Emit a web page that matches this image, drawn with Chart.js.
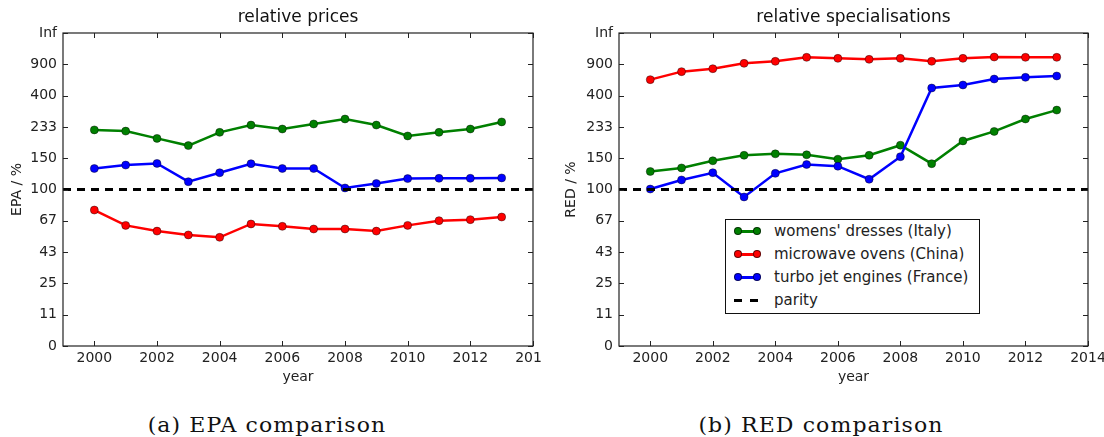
<!DOCTYPE html>
<html>
<head>
<meta charset="utf-8">
<script src="https://cdn.jsdelivr.net/npm/chart.js@4.4.0/dist/chart.umd.min.js"></script>
<style>
  body { margin: 0; background: #fff; width: 1104px; height: 437px; overflow: hidden; position: relative;
         font-family: "DejaVu Sans", sans-serif; }
  .panel { position: absolute; top: 0; height: 400px; overflow: hidden; }
  #pa { left: 0; width: 542px; }
  #pb { left: 552px; width: 552px; }
  .panel canvas { position: absolute; left: 0; top: 0; }
  .cap { position: absolute; top: 413px; font-family: "DejaVu Serif", serif; font-size: 20px; line-height: 24px;
         letter-spacing: 1px; transform: translateX(-50%) scaleX(1.1); white-space: nowrap; color: #111; }
  #legend { position: absolute; left: 725px; top: 219px; width: 255px; height: 95px; box-sizing: border-box;
            border: 1px solid #111; background: #fff; }
  .row { height: 22.9px; font-size: 15px; color: #222; position: relative; }
  .sw { position: absolute; left: 8px; width: 27px; height: 10px; top: 50%; margin-top: -5px; }
  .sw .ln { position: absolute; left: 3px; right: 3px; top: 3.8px; height: 2.5px; }
  .sw .dot { position: absolute; top: 1px; width: 8px; height: 8px; border-radius: 50%; box-sizing: border-box;
             border: 0.7px solid rgba(0,0,0,0.6); }
  .sw .d { position: absolute; top: 3.5px; height: 3px; width: 8px; background: #000; }
  .row span.t { position: absolute; left: 48px; top: 50%; transform: translateY(-50%); white-space: nowrap; }
</style>
</head>
<body>
<div class="panel" id="pa"><canvas id="epa" width="560" height="400"></canvas></div>
<div class="panel" id="pb"><canvas id="red" width="552" height="400"></canvas></div>
<div class="cap" style="left:267px">(a) EPA comparison</div>
<div class="cap" style="left:821px">(b) RED comparison</div>
<div id="legend"></div>
<script>
// two panels on a compressed axis: v / (100 + v), so 100 % sits mid-height
const YEARS = [2000, 2001, 2002, 2003, 2004, 2005, 2006, 2007, 2008, 2009, 2010, 2011, 2012, 2013];
const X_TICKS = [2000, 2002, 2004, 2006, 2008, 2010, 2012, 2014];
const Y_TICK_LABELS = ["0", "11", "25", "43", "67", "100", "150", "233", "400", "900", "Inf"];
const LABELS = ["womens' dresses (Italy)", "microwave ovens (China)", "turbo jet engines (France)"];
const COLORS = ["#008000", "#ff0000", "#0000ff"];
const PARITY = 100;

// EPA, %
const EPA_DRESSES = [223, 219, 197, 178, 215, 240, 226, 244, 264, 240, 204, 215, 226, 252];
const EPA_OVENS   = [76.8, 62.7, 58, 55, 53.2, 63.9, 61.9, 59.7, 59.7, 58, 62.7, 66.8, 67.7, 70.1];
const EPA_ENGINES = [131, 137, 140, 110.5, 124, 139.5, 131, 131, 102, 108, 115, 115.4, 115.4, 116];

// RED, %
const RED_DRESSES = [126, 132, 145, 156, 159, 157, 148, 156, 179, 139.5, 190, 218, 264, 306];
const RED_OVENS   = [571, 710, 777, 931, 1005, 1187, 1135, 1089, 1135, 1005, 1135, 1204, 1187, 1187];
const RED_ENGINES = [100.6, 113, 124, 90.9, 123, 138, 135, 114, 153, 469, 502, 580, 606, 628];

const FONT = "DejaVu Sans";
const INK = "#222";
const squash = (v) => v / (100 + v);

const frame = {
  id: "frame",
  afterDraw(chart) {
    const { ctx, chartArea: a, scales: { x, y } } = chart;
    const TL = 5;
    ctx.save();
    ctx.strokeStyle = INK;
    ctx.lineWidth = 1.2;
    ctx.strokeRect(a.left, a.top, a.right - a.left, a.bottom - a.top);
    ctx.lineWidth = 1;
    ctx.beginPath();
    x.ticks.forEach((t) => {
      const px = Math.round(x.getPixelForValue(t.value)) + 0.5;
      ctx.moveTo(px, a.bottom); ctx.lineTo(px, a.bottom - TL);
      ctx.moveTo(px, a.top); ctx.lineTo(px, a.top + TL);
    });
    y.ticks.forEach((t) => {
      const py = Math.round(y.getPixelForValue(t.value)) + 0.5;
      ctx.moveTo(a.left, py); ctx.lineTo(a.left + TL, py);
      ctx.moveTo(a.right, py); ctx.lineTo(a.right - TL, py);
    });
    ctx.stroke();
    // panel title, centred over the plot box
    ctx.fillStyle = "#111";
    ctx.font = `17px "${FONT}"`;
    ctx.textAlign = "center";
    ctx.textBaseline = "middle";
    ctx.fillText(chart.options.plugins.frame.title, (a.left + a.right) / 2, 18);
    ctx.restore();
  },
};

function makeChart(id, title, yTitle, series, yWidth, padRight, yTitlePad) {
  const datasets = series.map((vals, i) => ({
    label: LABELS[i],
    data: vals.map((v, j) => ({ x: YEARS[j], y: squash(v) })),
    borderColor: COLORS[i], backgroundColor: COLORS[i],
    pointBackgroundColor: COLORS[i], pointBorderColor: "rgba(0,0,0,0.6)", pointBorderWidth: 0.7,
    borderWidth: 2.5, pointRadius: 4, tension: 0, order: -i,
  }));
  datasets.push({
    label: "parity",
    data: [{ x: 1999, y: squash(PARITY) }, { x: 2014, y: squash(PARITY) }],
    borderColor: "#000", borderWidth: 3, borderDash: [8, 6], pointRadius: 0, order: -9,
  });
  return new Chart(document.getElementById(id), {
    type: "line",
    data: { datasets },
    plugins: [frame],
    options: {
      responsive: false, animation: false,
      layout: { padding: { left: 0, right: padRight, top: 33, bottom: 11 } },
      plugins: { legend: { display: false }, tooltip: { enabled: false }, frame: { title } },
      scales: {
        x: {
          type: "linear", min: 1999, max: 2014,
          grid: { display: false, drawTicks: false }, border: { display: false },
          afterBuildTicks: (s) => { s.ticks = X_TICKS.map((v) => ({ value: v })); },
          afterFit: (s) => { s.height = 43; s.paddingLeft = 0; s.paddingRight = 0; },
          ticks: { color: INK, padding: 4, maxRotation: 0, font: { family: FONT, size: 14 },
                   callback: (v) => String(v) },
          title: { display: true, text: "year", color: INK, font: { family: FONT, size: 14 },
                   padding: { top: 4, bottom: 3 } },
        },
        y: {
          type: "linear", min: 0, max: 1,
          grid: { display: false, drawTicks: false }, border: { display: false },
          afterBuildTicks: (s) => { s.ticks = Y_TICK_LABELS.map((_, i) => ({ value: i / 10 })); },
          afterFit: (s) => { s.width = yWidth; },
          ticks: { color: INK, padding: 6, font: { family: FONT, size: 14 },
                   callback: (v, i) => Y_TICK_LABELS[i] },
          title: { display: true, text: yTitle, color: INK, font: { family: FONT, size: 14 },
                   padding: { top: yTitlePad, bottom: 0 } },
        },
      },
    },
  });
}

makeChart("epa", "relative prices", "EPA / %", [EPA_DRESSES, EPA_OVENS, EPA_ENGINES], 63, 27, 9);
makeChart("red", "relative specialisations", "RED / %", [RED_DRESSES, RED_OVENS, RED_ENGINES], 67, 16, 11);

// legend for the right panel, built from the same series lists
const lg = document.getElementById("legend");
LABELS.forEach((name, i) => {
  lg.insertAdjacentHTML("beforeend",
    `<div class="row"><div class="sw"><div class="ln" style="background:${COLORS[i]}"></div>
     <div class="dot" style="left:0;background:${COLORS[i]}"></div>
     <div class="dot" style="right:0;background:${COLORS[i]}"></div></div>
     <span class="t">${name}</span></div>`);
});
lg.insertAdjacentHTML("beforeend",
  `<div class="row"><div class="sw"><div class="d" style="left:0"></div><div class="d" style="left:16px"></div></div>
   <span class="t">parity</span></div>`);
</script>
</body>
</html>
